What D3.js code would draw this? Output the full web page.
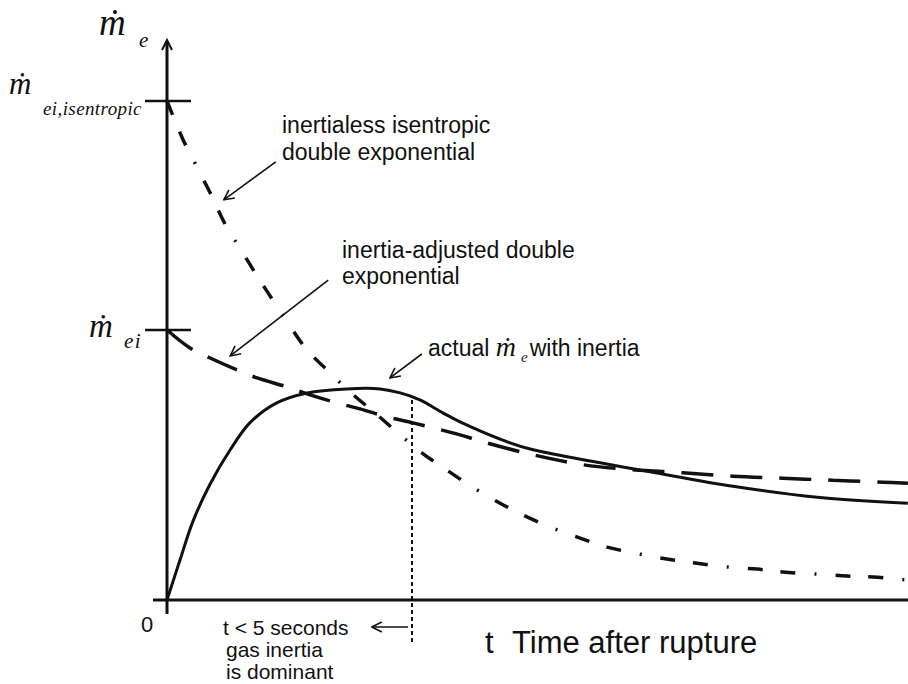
<!DOCTYPE html>
<html>
<head>
<meta charset="utf-8">
<script src="https://cdn.jsdelivr.net/npm/d3@7/dist/d3.min.js"></script>
<style>
  html, body { margin: 0; padding: 0; background: #fff; }
  svg { display: block; }
  .lbl { font-family: "Liberation Sans", Arial, sans-serif; fill: #111; }
  .sym { font-family: "Liberation Serif", "Times New Roman", serif; font-style: italic; fill: #111; }
</style>
</head>
<body>
<div id="chart"></div>
<script>
// time after rupture (s) and normalised mass flow
const actualT = [0, 0.265, 0.531, 0.878, 1.29, 1.69, 2.24, 2.86, 3.67, 4.35, 4.76, 5.16, 5.63, 5.98, 7.0, 7.47, 8.84, 9.86, 11.55, 13.27, 15.12];
const actualM = [0, 0.080, 0.158, 0.232, 0.301, 0.355, 0.395, 0.415, 0.423, 0.423, 0.415, 0.401, 0.375, 0.357, 0.315, 0.301, 0.275, 0.257, 0.228, 0.206, 0.194];

const adjustedT = [0, 0.47, 0.88, 1.43, 1.84, 2.45, 2.92, 3.47, 3.94, 4.49, 5.02, 5.51, 5.98, 6.45, 7.47, 8.49, 9.51, 10.53, 11.55, 12.57, 13.59, 14.61, 15.12];
const adjustedM = [0.541, 0.505, 0.485, 0.461, 0.445, 0.427, 0.411, 0.395, 0.383, 0.367, 0.355, 0.343, 0.331, 0.317, 0.291, 0.271, 0.261, 0.255, 0.248, 0.244, 0.240, 0.236, 0.234];

const isenT = [0, 0.33, 0.61, 0.88, 1.22, 1.49, 1.84, 2.16, 2.51, 2.86, 3.33, 3.78, 4.29, 4.76, 5.2, 5.67, 6.24, 6.76, 7.27, 7.88, 8.43, 8.98, 9.65, 10.2, 10.78, 11.45, 12.04, 12.57, 13.27, 13.88, 14.41, 15.12];
const isenM = [1.0, 0.922, 0.868, 0.816, 0.747, 0.705, 0.649, 0.601, 0.549, 0.501, 0.455, 0.413, 0.371, 0.331, 0.295, 0.263, 0.226, 0.196, 0.170, 0.144, 0.124, 0.106, 0.092, 0.082, 0.074, 0.066, 0.062, 0.056, 0.052, 0.048, 0.046, 0.040];

const tickValues = [1.0, 0.541];   // ṁ ei,isentropic and ṁ ei
const inertiaLimit = 5;            // t < 5 seconds

const width = 908, height = 684;
const x = d3.scaleLinear().domain([0, 15]).range([167, 902]);
const y = d3.scaleLinear().domain([0, 1]).range([600, 101]);

const svg = d3.select('#chart').append('svg')
  .attr('width', width).attr('height', height);

const defs = svg.append('defs');
defs.append('marker')
  .attr('id', 'head')
  .attr('viewBox', '0 0 12 12')
  .attr('refX', 11).attr('refY', 6)
  .attr('markerWidth', 12).attr('markerHeight', 12)
  .attr('markerUnits', 'userSpaceOnUse')
  .attr('orient', 'auto')
  .append('path')
  .attr('d', 'M1,1 L11,6 L1,11')
  .attr('fill', 'none').attr('stroke', '#111').attr('stroke-width', 1.6);

// axes
svg.append('line')
  .attr('x1', x(0)).attr('x2', x(0))
  .attr('y1', y(0) + 14).attr('y2', 41)
  .attr('stroke', '#111').attr('stroke-width', 3);
svg.append('path')
  .attr('d', `M${x(0) - 5},50 L${x(0)},40 L${x(0) + 5},50`)
  .attr('fill', 'none').attr('stroke', '#111').attr('stroke-width', 2);
svg.append('line')
  .attr('x1', 153).attr('x2', width)
  .attr('y1', y(0)).attr('y2', y(0))
  .attr('stroke', '#111').attr('stroke-width', 3);

svg.selectAll('line.tick').data(tickValues).join('line')
  .attr('class', 'tick')
  .attr('x1', x(0) - 22).attr('x2', x(0) + 24)
  .attr('y1', d => y(d)).attr('y2', d => y(d))
  .attr('stroke', '#111').attr('stroke-width', 2.5);

// curves
const line = d3.line().x(d => x(d[0])).y(d => y(d[1])).curve(d3.curveCatmullRom.alpha(0.5));
const zip = (a, b) => a.map((v, i) => [v, b[i]]);

svg.append('path').datum(zip(isenT, isenM))
  .attr('d', line).attr('fill', 'none')
  .attr('stroke', '#111').attr('stroke-width', 3.5)
  .attr('stroke-dasharray', '15 18 15 19 2 19');

svg.append('path').datum(zip(adjustedT, adjustedM))
  .attr('d', line).attr('fill', 'none')
  .attr('stroke', '#111').attr('stroke-width', 3.5)
  .attr('stroke-dasharray', '32 17');

svg.append('path').datum(zip(actualT, actualM))
  .attr('d', line).attr('fill', 'none')
  .attr('stroke', '#111').attr('stroke-width', 3);

// t = 5 s marker
svg.append('line')
  .attr('x1', x(inertiaLimit)).attr('x2', x(inertiaLimit))
  .attr('y1', 400).attr('y2', 643)
  .attr('stroke', '#111').attr('stroke-width', 2)
  .attr('stroke-dasharray', '4 3');

// annotation arrows [from, to] in data units
const arrows = [
  [[2.22, 0.878], [1.16, 0.802]],
  [[3.29, 0.641], [1.29, 0.489]],
  [[5.20, 0.493], [4.55, 0.445]],
  [[4.92, -0.054], [4.18, -0.054]]
];
svg.selectAll('line.arrow').data(arrows).join('line')
  .attr('class', 'arrow')
  .attr('x1', d => x(d[0][0])).attr('y1', d => y(d[0][1]))
  .attr('x2', d => x(d[1][0])).attr('y2', d => y(d[1][1]))
  .attr('stroke', '#111').attr('stroke-width', 1.6)
  .attr('marker-end', 'url(#head)');

// text labels
function label(tx, ty, str, size) {
  svg.append('text').attr('class', 'lbl')
    .attr('x', tx).attr('y', ty).attr('font-size', size).text(str);
}
label(282, 133, 'inertialess isentropic', 23);
label(282, 160, 'double exponential', 23);
label(342, 258, 'inertia-adjusted double', 23);
label(342, 284, 'exponential', 23);
label(223, 635, 't < 5 seconds', 21);
label(226, 657, 'gas inertia', 21);
label(226, 679, 'is dominant', 21);
label(485, 653, 't', 31);
label(512, 653, 'Time after rupture', 31);
label(141, 632, '0', 22);

function sym(tx, ty, sub, size, subSize, subX, subY, spacing) {
  svg.append('text').attr('class', 'sym')
    .attr('x', tx).attr('y', ty).attr('font-size', size).text('ṁ');
  svg.append('text').attr('class', 'sym')
    .attr('x', subX).attr('y', subY).attr('font-size', subSize)
    .attr('letter-spacing', spacing).text(sub);
}
sym(99, 35, 'e', 37, 21, 139, 47, 0);
sym(9, 94, 'ei,isentropic', 31, 19, 43, 115, 0.4);
sym(89, 337, 'ei', 33, 21, 124, 348, 1.5);

const act = svg.append('text').attr('class', 'lbl')
  .attr('x', 428).attr('y', 356).attr('font-size', 23);
act.append('tspan').text('actual ');
act.append('tspan').attr('class', 'sym').attr('font-size', 28).text('ṁ');
act.append('tspan').attr('class', 'sym').attr('font-size', 15)
  .attr('dx', 5).attr('dy', 6).text('e');
act.append('tspan').attr('dx', 2).attr('dy', -6).text('with inertia');
</script>
</body>
</html>
